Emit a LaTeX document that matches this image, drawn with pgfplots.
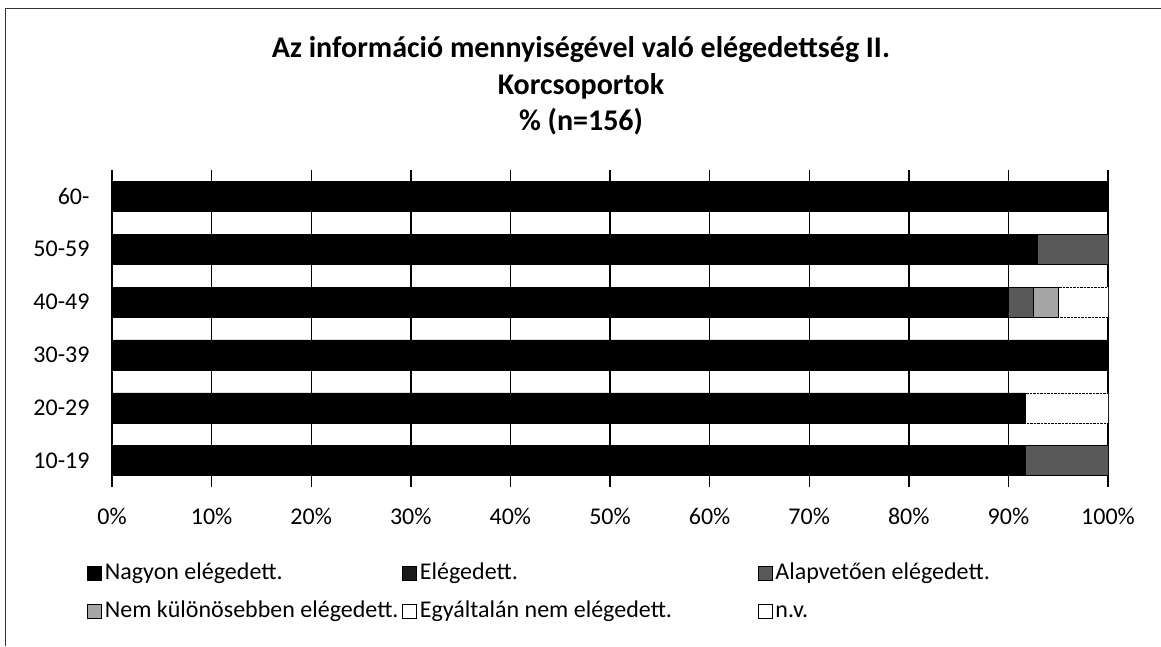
\documentclass[border=0pt]{standalone}
\usepackage{pgfplots}
\pgfplotsset{compat=1.18}
\usepackage{pgfplotstable}
\usepackage{fontspec}
\setmainfont{Carlito}

\pgfplotstableread{
pos nagyon eleg alap nem egy nv
0 91.7 0 8.3 0 0 0
1 91.7 0 0 0 0 8.3
2 100 0 0 0 0 0
3 90 0 2.5 2.5 0 5
4 92.9 0 7.1 0 0 0
5 100 0 0 0 0 0
}\datatable

\begin{document}
\begin{tikzpicture}
\useasboundingbox (0pt,0pt) rectangle (1161pt,-646pt);
\draw[line width=1pt, black!80] (5pt,-646pt) -- (5pt,-8pt) -- (1161pt,-8pt);
\node[font=\fontsize{30}{34}\selectfont\bfseries, anchor=base] at (581pt,-57pt) {Az információ mennyiségével való elégedettség II.};
\node[font=\fontsize{30}{34}\selectfont\bfseries, anchor=base] at (581pt,-94pt) {Korcsoportok};
\node[font=\fontsize{30}{34}\selectfont\bfseries, anchor=base] at (581pt,-130pt) {\% (n=156)};
\begin{axis}[
  at={(112pt,-487pt)}, anchor=south west,
  scale only axis, width=996pt, height=317pt,
  xbar stacked, bar width=30pt,
  every axis plot post/.append style={legend image code/.code={\draw[##1, solid] (0pt,-7pt) rectangle (14pt,7pt);}},
  xmin=0, xmax=100, ymin=-0.5, ymax=5.5,
  xtick={0,10,...,100},
  xticklabels={0\%,10\%,20\%,30\%,40\%,50\%,60\%,70\%,80\%,90\%,100\%},
  ytick={0,1,2,3,4,5},
  yticklabels={10-19,20-29,30-39,40-49,50-59,60-},
  major tick length=0pt,
  axis line style={draw=none},
  xmajorgrids, grid style={black, line width=1.4pt},
  tick label style={font=\fontsize{24}{28}\selectfont},
  xticklabel style={yshift=-18pt},
  yticklabel style={xshift=-19pt},
  legend style={draw=none, fill=none, font=\fontsize{24}{28}\selectfont,
    at={(-0.0251,-0.235)}, anchor=north west, legend columns=3,
    inner sep=0pt, outer sep=0pt,
    nodes={inner xsep=3.5pt, inner ysep=0pt, text height=18pt, text depth=6pt},
    row sep=14pt},
  legend cell align=left,
]
\addplot[fill=black, draw=black] table[x=nagyon, y=pos] {\datatable};
\addplot[fill=black!90, draw=black] table[x=eleg, y=pos] {\datatable};
\addplot[fill=black!65, draw=black] table[x=alap, y=pos] {\datatable};
\addplot[fill=black!35, draw=black] table[x=nem, y=pos] {\datatable};
\addplot[fill=white, draw=black, densely dashed] table[x=egy, y=pos] {\datatable};
\addplot[fill=white, draw=black, densely dotted] table[x=nv, y=pos] {\datatable};
\legend{Nagyon elégedett., Elégedett., Alapvetően elégedett., Nem különösebben elégedett., Egyáltalán nem elégedett.\hspace*{82pt}, n.v.}
\end{axis}
\end{tikzpicture}
\end{document}
